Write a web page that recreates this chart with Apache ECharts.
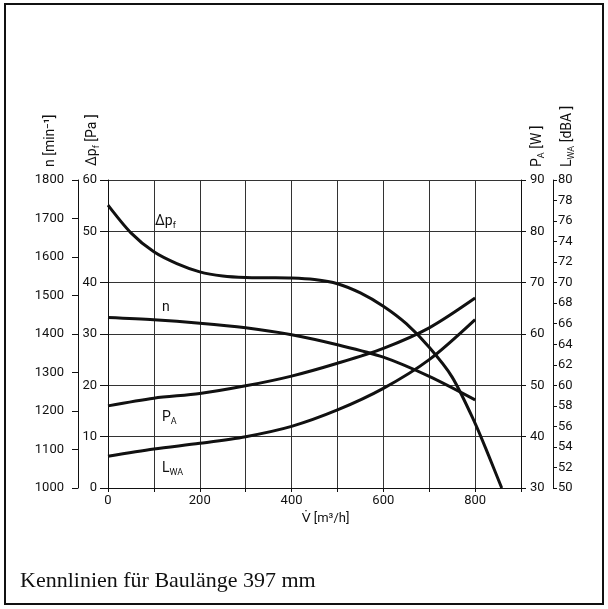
<!DOCTYPE html>
<html>
<head>
<meta charset="utf-8">
<script src="https://cdn.jsdelivr.net/npm/echarts@6/dist/echarts.min.js"></script>
<style>
html,body{margin:0;padding:0;background:#fff;}
#chart{width:608px;height:609px;}
</style>
</head>
<body>
<div id="chart"></div>
<script>
// ---- data ----
const xTicks = [0, 200, 400, 600, 800];
const V_dp = [0, 50, 100, 150, 200, 250, 300, 350, 400, 450, 500, 550, 600, 650, 700, 750, 800, 830, 858];
const dpValues = [55.1, 49.7, 46.0, 43.7, 42.1, 41.3, 41.0, 40.95, 40.9, 40.6, 39.8, 38.0, 35.4, 32.0, 27.4, 21.6, 12.6, 6.2, 0];
const V_n = [0, 100, 200, 300, 400, 500, 600, 700, 800];
const nValues = [1443, 1437, 1428, 1416, 1398, 1372, 1340, 1290, 1229];
const V_pa = [0, 100, 200, 300, 400, 500, 600, 700, 800];
const paValues = [46.0, 47.5, 48.4, 49.9, 51.8, 54.3, 57.2, 61.2, 67.0];
const V_lwa = [0, 100, 200, 300, 400, 500, 600, 700, 800];
const lwaValues = [53.1, 53.8, 54.35, 55.0, 56.0, 57.6, 59.7, 62.5, 66.4];

const FONT = 'Roboto,"DejaVu Sans",sans-serif';
const FS = 13;
const INK = '#111';
const GRID = '#333';

function pairs(xs, ys) { return xs.map((x, i) => [x, ys[i]]); }

const chart = echarts.init(document.getElementById('chart'), null, {renderer: 'canvas'});

function yAxisBase(o) {
  return Object.assign({
    type: 'value',
    axisLine: {show: true, onZero: false, lineStyle: {color: INK, width: 1}},
    axisTick: {show: true, inside: false, lineStyle: {color: INK, width: 1}},
    splitLine: {show: false}
  }, o);
}
function lbl(margin) {
  return {color: INK, fontSize: FS, fontFamily: FONT, margin: margin, formatter: v => String(v)};
}

const lineSeries = (xs, ys, idx) => ({
  type: 'line', yAxisIndex: idx, data: pairs(xs, ys),
  smooth: 0.3, showSymbol: false, symbol: 'none',
  lineStyle: {color: INK, width: 3}, silent: true, animation: false
});

const rich = {
  a: {fontSize: 14, fontFamily: FONT, color: INK, lineHeight: 18},
  s: {fontSize: 9, fontFamily: FONT, color: INK, lineHeight: 18, verticalAlign: 'bottom'}
};

function vtext(x, y, text) {
  return {type: 'text', x: x, y: y, rotation: Math.PI / 2,
    style: {text: text, rich: rich, align: 'left', verticalAlign: 'middle', fill: INK}};
}
function htext(x, y, text) {
  return {type: 'text', x: x, y: y,
    style: {text: text, rich: rich, align: 'left', verticalAlign: 'middle', fill: INK}};
}

chart.setOption({
  animation: false,
  backgroundColor: '#fff',
  grid: {left: 108, right: 87, top: 180, bottom: 121, outerBoundsMode: 'none', containLabel: false},
  xAxis: {
    type: 'value', min: 0, max: 900, interval: 100,
    axisLine: {show: true, onZero: false, lineStyle: {color: INK, width: 1}},
    axisTick: {show: true, length: 4, lineStyle: {color: INK}},
    axisLabel: {color: INK, fontSize: FS, fontFamily: FONT, margin: 6,
      formatter: v => (xTicks.indexOf(v) >= 0 ? String(v) : '')},
    splitLine: {show: true, lineStyle: {color: GRID, width: 1}},
    name: 'V\u0307 [m\u00b3/h]', nameLocation: 'middle', nameGap: 22,
    nameTextStyle: {color: INK, fontSize: FS, fontFamily: FONT, padding: [0, 0, 0, 22]}
  },
  yAxis: [
    yAxisBase({position: 'left', offset: 0, min: 0, max: 60, interval: 10,
      axisTick: {show: true, length: 8, lineStyle: {color: INK}},
      axisLabel: lbl(11),
      splitLine: {show: true, lineStyle: {color: GRID, width: 1}}}),
    yAxisBase({position: 'left', offset: 30, min: 1000, max: 1800, interval: 100,
      axisTick: {show: true, length: 6, lineStyle: {color: INK}},
      axisLabel: lbl(14)}),
    yAxisBase({position: 'right', offset: 0, min: 30, max: 90, interval: 10,
      axisTick: {show: true, length: 5, lineStyle: {color: INK}},
      axisLabel: lbl(9)}),
    yAxisBase({position: 'right', offset: 32, min: 50, max: 80, interval: 2,
      axisTick: {show: true, length: 4, lineStyle: {color: INK}},
      axisLabel: lbl(5)})
  ],
  series: [
    lineSeries(V_dp, dpValues, 0),
    lineSeries(V_n, nValues, 1),
    lineSeries(V_pa, paValues, 2),
    lineSeries(V_lwa, lwaValues, 3)
  ],
  graphic: [
    {type: 'rect', shape: {x: 5, y: 4, width: 598, height: 600},
      style: {fill: 'none', stroke: INK, lineWidth: 2}, silent: true},
    vtext(50, 167, '{a|n [min\u207b\u00b9]}'),
    vtext(92, 166, '{a|\u0394p}{s|f}{a| [Pa ]}'),
    vtext(537, 167, '{a|P}{s|A}{a| [W ]}'),
    vtext(567, 167, '{a|L}{s|WA}{a| [dBA ]}'),
    htext(155, 221, '{a|\u0394p}{s|f}'),
    htext(162, 307, '{a|n}'),
    htext(162, 417, '{a|P}{s|A}'),
    htext(162, 468, '{a|L}{s|WA}'),
    {type: 'text', x: 20, y: 581,
      style: {text: 'Kennlinien f\u00fcr Baul\u00e4nge 397 mm', fontFamily: '"Liberation Serif","Times New Roman",serif',
        fontSize: 22, fill: INK, align: 'left', verticalAlign: 'middle'}}
  ]
});
</script>
</body>
</html>
